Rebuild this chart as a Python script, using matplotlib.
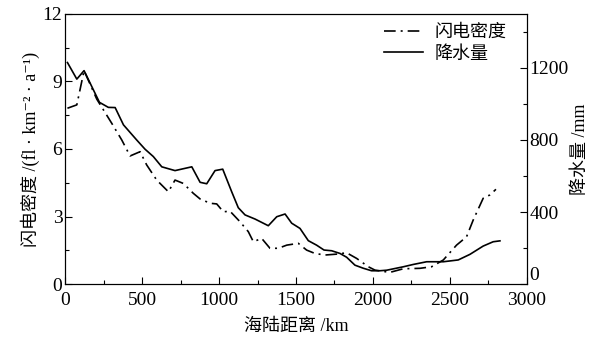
import matplotlib
matplotlib.use("Agg")
import matplotlib.pyplot as plt
from matplotlib.ticker import MultipleLocator

plt.rcParams['font.family'] = ['Liberation Serif', 'Noto Sans CJK SC', 'DejaVu Sans']

# Lightning density (fl km^-2 a^-1) vs distance (km)
light_x = [15, 76, 123, 206, 303, 368, 422, 487, 530, 595, 671, 714, 768, 833, 877,
           942, 985, 1028, 1071, 1136, 1190, 1223, 1277, 1331, 1385, 1440, 1515, 1569,
           1623, 1688, 1764, 1829, 1894, 1970, 2013, 2110, 2197, 2305, 2381, 2457,
           2543, 2608, 2651, 2716, 2760, 2799]
light_y = [7.81, 7.96, 9.48, 8.21, 7.14, 6.40, 5.69, 5.88, 5.29, 4.62, 4.10, 4.62, 4.47,
           4.03, 3.78, 3.59, 3.56, 3.21, 3.24, 2.77, 2.33, 1.88, 2.03, 1.59, 1.59, 1.73,
           1.81, 1.51, 1.36, 1.29, 1.33, 1.39, 1.14, 0.77, 0.62, 0.52, 0.68, 0.70, 0.77,
           1.07, 1.73, 2.10, 2.84, 3.81, 3.96, 4.21]

# Precipitation (mm) vs distance (km)
rain_x = [15, 76, 123, 223, 281, 325, 379, 465, 519, 573, 628, 714, 823, 877, 920, 974,
          1024, 1082, 1125, 1169, 1234, 1320, 1375, 1429, 1472, 1526, 1580, 1634, 1682,
          1732, 1786, 1829, 1883, 1937, 1991, 2045, 2089, 2197, 2262, 2349, 2457, 2554,
          2630, 2716, 2781, 2825]
rain_y = [1230, 1138, 1185, 1009, 981, 980, 884, 800, 749, 708, 651, 630, 651, 565, 557,
          630, 638, 513, 424, 384, 361, 324, 374, 389, 338, 309, 241, 216, 189, 185, 170,
          149, 105, 88, 74, 74, 77, 96, 109, 124, 124, 134, 165, 211, 235, 240]

x_ticks = [0, 500, 1000, 1500, 2000, 2500, 3000]
left_ticks = [0, 3, 6, 9, 12]
right_ticks = [0, 400, 800, 1200]

fig = plt.figure(figsize=(5.92, 3.39), dpi=100)
ax = fig.add_axes([0.110, 0.162, 0.780, 0.797])
ax2 = ax.twinx()

l1, = ax.plot(light_x, light_y, color='black', lw=1.2, linestyle=(0, (7, 3, 1.2, 3)),
              label='闪电密度')
l2, = ax2.plot(rain_x, rain_y, color='black', lw=1.2, label='降水量')

ax.set_xlim(0, 3000)
ax.set_ylim(0, 12)
ax2.set_ylim(0, 1500)

ax.set_xticks(x_ticks)
ax.set_yticks(left_ticks)
ax2.set_yticks(right_ticks)
ax.xaxis.set_minor_locator(MultipleLocator(250))
ax.yaxis.set_minor_locator(MultipleLocator(1.5))
ax2.yaxis.set_minor_locator(MultipleLocator(200))

for a in (ax, ax2):
    a.tick_params(which='major', direction='in', length=5, width=0.8, labelsize=14)
    a.tick_params(which='minor', direction='in', length=3, width=0.8)
ax.tick_params(axis='x', top=False, which='both', pad=6)
ax.tick_params(axis='y', right=False, which='both', pad=2)
ax2.tick_params(axis='y', pad=2)

# lift the right-axis "0" label so it sits above the x tick "3000", as in the reference
ax2.get_yticklabels()
ax2.yaxis.get_major_ticks()[0].label2.set_verticalalignment('bottom')

ax.set_xlabel('海陆距离 /km', fontsize=13, labelpad=6)
ax.set_ylabel('闪电密度 /(fl · km⁻² · a⁻¹)', fontsize=13, labelpad=2)
ax2.set_ylabel('降水量 /mm', fontsize=13, labelpad=2)

ax.legend(handles=[l1, l2], loc='upper right', frameon=False, fontsize=13,
          handlelength=2.2, bbox_to_anchor=(0.975, 0.995), borderaxespad=0.1,
          labelspacing=0.25, handletextpad=0.6)

fig.savefig('out.png', dpi=100)
